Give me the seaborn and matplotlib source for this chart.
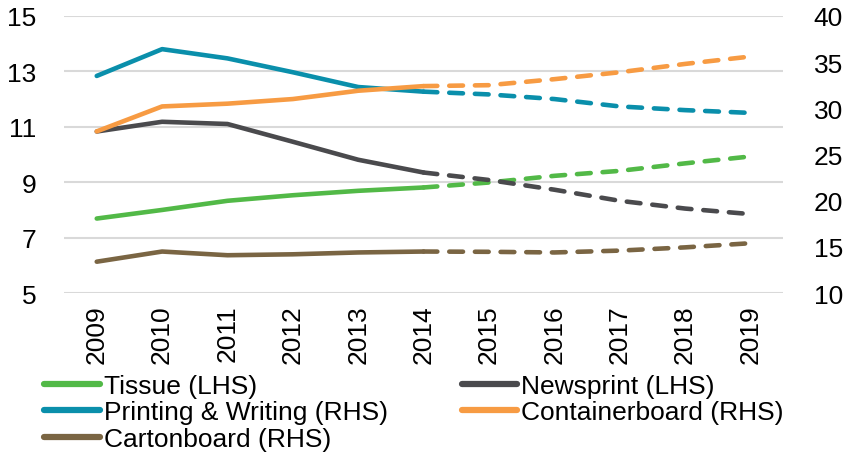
import matplotlib
matplotlib.use("Agg")
import matplotlib.pyplot as plt
import seaborn as sns
import pandas as pd
from matplotlib.lines import Line2D

years = [2009, 2010, 2011, 2012, 2013, 2014, 2015, 2016, 2017, 2018, 2019]
tissue = [7.69, 8.00, 8.33, 8.53, 8.69, 8.81, 8.99, 9.23, 9.41, 9.68, 9.93]
newsprint = [10.83, 11.18, 11.10, 10.46, 9.81, 9.35, 9.08, 8.73, 8.33, 8.05, 7.85]
printing = [33.5, 36.4, 35.4, 33.9, 32.3, 31.8, 31.5, 31.0, 30.2, 29.8, 29.5]
container = [27.5, 30.2, 30.5, 31.0, 31.9, 32.4, 32.5, 33.15, 33.9, 34.8, 35.6]
carton = [13.4, 14.5, 14.1, 14.2, 14.4, 14.5, 14.47, 14.4, 14.6, 14.95, 15.4]
split_year = 2014

labels = ["Tissue (LHS)", "Newsprint (LHS)", "Printing & Writing (RHS)",
          "Containerboard (RHS)", "Cartonboard (RHS)"]
colors = ["#52b947", "#4a4a4d", "#0a8fab", "#f79b43", "#7a6543"]
sides = ["L", "L", "R", "R", "R"]
series = [tissue, newsprint, printing, container, carton]

sns.set_theme(style="white")
plt.rcParams['font.family'] = ['Liberation Sans', 'DejaVu Sans']
plt.rcParams['text.color'] = 'black'
FS = 19

fig = plt.figure(figsize=(8.54, 4.56), dpi=100)
ax = fig.add_axes([0.075, 0.355, 0.842, 0.608])
ax2 = ax.twinx()

lw = 3.3
for lab, col, side, vals in zip(labels, colors, sides, series):
    df = pd.DataFrame({"year": years, "value": vals})
    hist = df[df.year <= split_year]
    fc = df[df.year >= split_year]
    target = ax if side == "L" else ax2
    sns.lineplot(data=hist, x="year", y="value", ax=target, color=col, lw=lw,
                 solid_capstyle="round", legend=False)
    sns.lineplot(data=fc, x="year", y="value", ax=target, color=col, lw=lw,
                 legend=False)
    line = target.lines[-1]
    line.set_dashes((3.0, 2.6))
    line.set_dash_capstyle("round")

ax.set_ylim(5, 15)
ax.set_yticks([5, 7, 9, 11, 13, 15])
ax2.set_ylim(10, 40)
ax2.set_yticks([10, 15, 20, 25, 30, 35, 40])
ax.set_xlim(2008.5, 2019.5)
ax.set_xticks(years)
ax.set_xticklabels([str(y) for y in years], rotation=90)
for a in (ax, ax2):
    a.set_xlabel("")
    a.set_ylabel("")
    for s in a.spines.values():
        s.set_visible(False)
    a.tick_params(length=0, labelsize=FS, colors="black")
ax.tick_params(axis="y", pad=20)
ax.tick_params(axis="x", pad=8)
ax2.tick_params(axis="y", pad=22)
ax.grid(axis="y", color="#d9d9d9", lw=1.5)
ax.grid(axis="x", visible=False)
ax2.grid(False)

handles = [Line2D([], [], color=c, lw=4.5, solid_capstyle="round") for c in colors]
order = [0, 2, 4, 1, 3]
leg = fig.legend([handles[i] for i in order], [labels[i] for i in order],
                 loc="upper left", bbox_to_anchor=(0.052, 0.178), ncol=2,
                 frameon=False, fontsize=FS, handlelength=2.1, handletextpad=0.15,
                 labelspacing=0.1, columnspacing=2.8, borderpad=0, borderaxespad=0)
for t in leg.get_texts():
    t.set_color("black")

fig.savefig("out.png", dpi=100)
